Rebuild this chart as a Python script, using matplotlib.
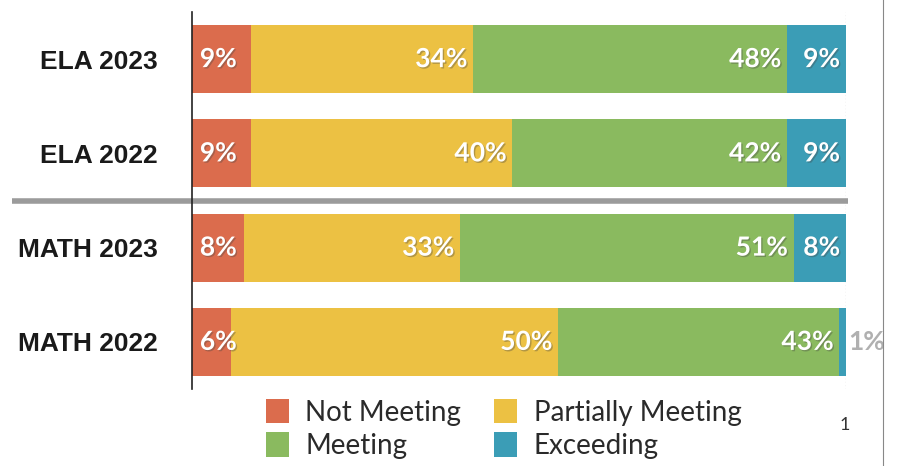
import matplotlib.pyplot as plt
import matplotlib.transforms as mtransforms
import matplotlib.patheffects as pe
from matplotlib.patches import Patch
import numpy as np

plt.rcParams['font.family'] = ['Lato', 'DejaVu Sans']

groups = ['ELA 2023', 'ELA 2022', 'MATH 2023', 'MATH 2022']
categories = ['Not Meeting', 'Partially Meeting', 'Meeting', 'Exceeding']
not_meeting = [9, 9, 8, 6]
partially = [34, 40, 33, 50]
meeting = [48, 42, 51, 43]
exceeding = [9, 9, 8, 1]
colors = ['#DB6C4D', '#ECC143', '#8ABA5F', '#3B9DB6']

series = [not_meeting, partially, meeting, exceeding]

fig = plt.figure(figsize=(9.03, 4.66), dpi=100)
ax = fig.add_axes([192 / 903, 1 - 389 / 466, 654 / 903, 377 / 466])

shadow = [pe.withSimplePatchShadow(offset=(1, -1), shadow_rgbFace='#444444', alpha=0.35)]

y = np.arange(len(groups))
left = np.zeros(len(groups))
for k, (vals, col) in enumerate(zip(series, colors)):
    vals = np.array(vals, dtype=float)
    ax.barh(y, vals, left=left, height=0.72, color=col, edgecolor='none')
    for yi, (l, v) in enumerate(zip(left, vals)):
        txt = '%d%%' % v
        if k == 0:
            ax.text(l + 1.2, yi, txt, ha='left', va='center',
                    color='white', fontsize=19, fontweight='bold', path_effects=shadow)
        elif v >= 3:
            ax.text(l + v - 0.9, yi, txt, ha='right', va='center',
                    color='white', fontsize=19, fontweight='bold', path_effects=shadow)
        else:
            ax.text(l + v + 0.4, yi, txt, ha='left', va='center',
                    color='#b0b0b0', fontsize=19, fontweight='bold')
    left += vals

ax.set_xlim(0, 100)
ax.set_ylim(3.5, -0.5)
ax.set_yticks(y)
ax.set_yticklabels(groups, fontsize=19, fontweight='bold', color='#1a1a1a',
                   family=['Liberation Sans', 'DejaVu Sans'])
ax.tick_params(axis='y', length=0, pad=24.5)
ax.set_xticks([])
for s in ['top', 'right', 'bottom']:
    ax.spines[s].set_visible(False)
ax.spines['left'].set_color('#222222')
ax.spines['left'].set_linewidth(1.2)
ax.spines['left'].set_bounds(3.5, -0.5)

# dotted 100% line
ax.axvline(100, color='#555555', linestyle=(0, (1, 2)), linewidth=0.8, zorder=0)

# gray separator between ELA and MATH
trans = mtransforms.blended_transform_factory(ax.transAxes, ax.transData)
ax.plot([-0.275, 1.003], [1.5, 1.5], transform=trans, color='#9b9b9b',
        linewidth=4, clip_on=False, solid_capstyle='butt')

# page edge line and page number from the scan
fig.add_artist(plt.Line2D([883 / 903, 883 / 903], [0, 1], color='#888888',
                          linewidth=0.8, transform=fig.transFigure))
fig.text(845 / 903, 1 - 425 / 466, '1', fontsize=13, color='#333333',
         ha='center', va='center')

handles = [Patch(facecolor=colors[i], edgecolor='none') for i in [0, 2, 1, 3]]
labels = [categories[i] for i in [0, 2, 1, 3]]
fig.legend(handles, labels, loc='upper left', bbox_to_anchor=(266 / 903, 1 - 399 / 466),
           ncol=2, frameon=False, fontsize=20, handlelength=0.83, handleheight=0.97,
           handletextpad=0.58, columnspacing=1.2, labelspacing=0.24, borderpad=0,
           borderaxespad=0, labelcolor='#2a2a2a')

fig.savefig('out.png', dpi=100)
